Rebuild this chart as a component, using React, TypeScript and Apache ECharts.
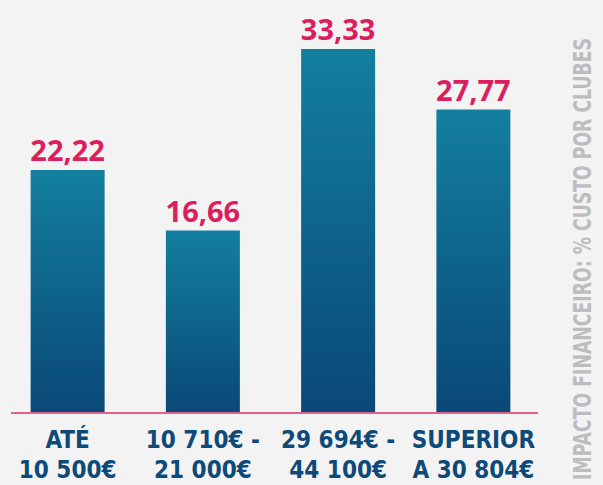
import React, { useEffect, useRef } from "react";
import * as echarts from "echarts";

const categories = ["ATÉ\n10 500€", "10 710€ -\n21 000€", "29 694€ -\n44 100€", "SUPERIOR\nA 30 804€"];
const values = [22.22, 16.66, 33.33, 27.77];
const sideTitle = "IMPACTO FINANCEIRO: % CUSTO POR CLUBES";

const condensed = "'DejaVu Sans Condensed', 'Liberation Sans Narrow', sans-serif";

export default function App() {
  const ref = useRef<HTMLDivElement>(null);
  useEffect(() => {
    const chart = echarts.init(ref.current!, null, { renderer: "svg" });
    const titleFont = "bold 25px " + condensed;
    let scaleX = 0.8;
    const c = document.createElement("canvas").getContext("2d");
    if (c) {
      c.font = titleFont;
      const w = c.measureText(sideTitle).width;
      if (w > 0) scaleX = 442 / w;
    }
    chart.setOption({
      animation: false,
      backgroundColor: "#f3f3f3",
      grid: { left: 0, right: 62, top: 49, bottom: 72, containLabel: false },
      xAxis: {
        type: "category",
        data: categories,
        axisLine: { show: false },
        axisTick: { show: false },
        axisLabel: {
          interval: 0,
          margin: 13,
          color: "#0d4a78",
          fontFamily: condensed,
          fontWeight: "bold",
          fontSize: 24,
          lineHeight: 30,
        },
      },
      yAxis: {
        type: "value",
        min: 0,
        max: 33.33,
        show: false,
        splitLine: { show: false },
      },
      series: [
        {
          type: "bar",
          data: values,
          barWidth: 74,
          itemStyle: {
            color: new echarts.graphic.LinearGradient(0, 0, 0, 1, [
              { offset: 0, color: "#137f9e" },
              { offset: 1, color: "#0a4877" },
            ]),
          },
          label: {
            show: true,
            position: "top",
            distance: 6,
            color: "#dc1e5e",
            fontFamily: "'Open Sans', sans-serif",
            fontWeight: "bold",
            fontSize: 29,
            formatter: (p: any) => p.value.toFixed(2).replace(".", ","),
          },
        },
      ],
      graphic: [
        {
          type: "line",
          shape: { x1: 11, y1: 413, x2: 538, y2: 413 },
          style: { stroke: "#e0306a", lineWidth: 1.5 },
          z: 10,
        },
        {
          type: "text",
          x: 582,
          y: 259,
          rotation: Math.PI / 2,
          scaleX: scaleX,
          style: {
            text: sideTitle,
            fill: "#bdbdbd",
            font: titleFont,
            textAlign: "center",
            textVerticalAlign: "middle",
          },
        },
      ],
    });
    return () => chart.dispose();
  }, []);
  return <div ref={ref} style={{ width: 603, height: 485, position: "absolute", left: 0, top: 0 }} />;
}
